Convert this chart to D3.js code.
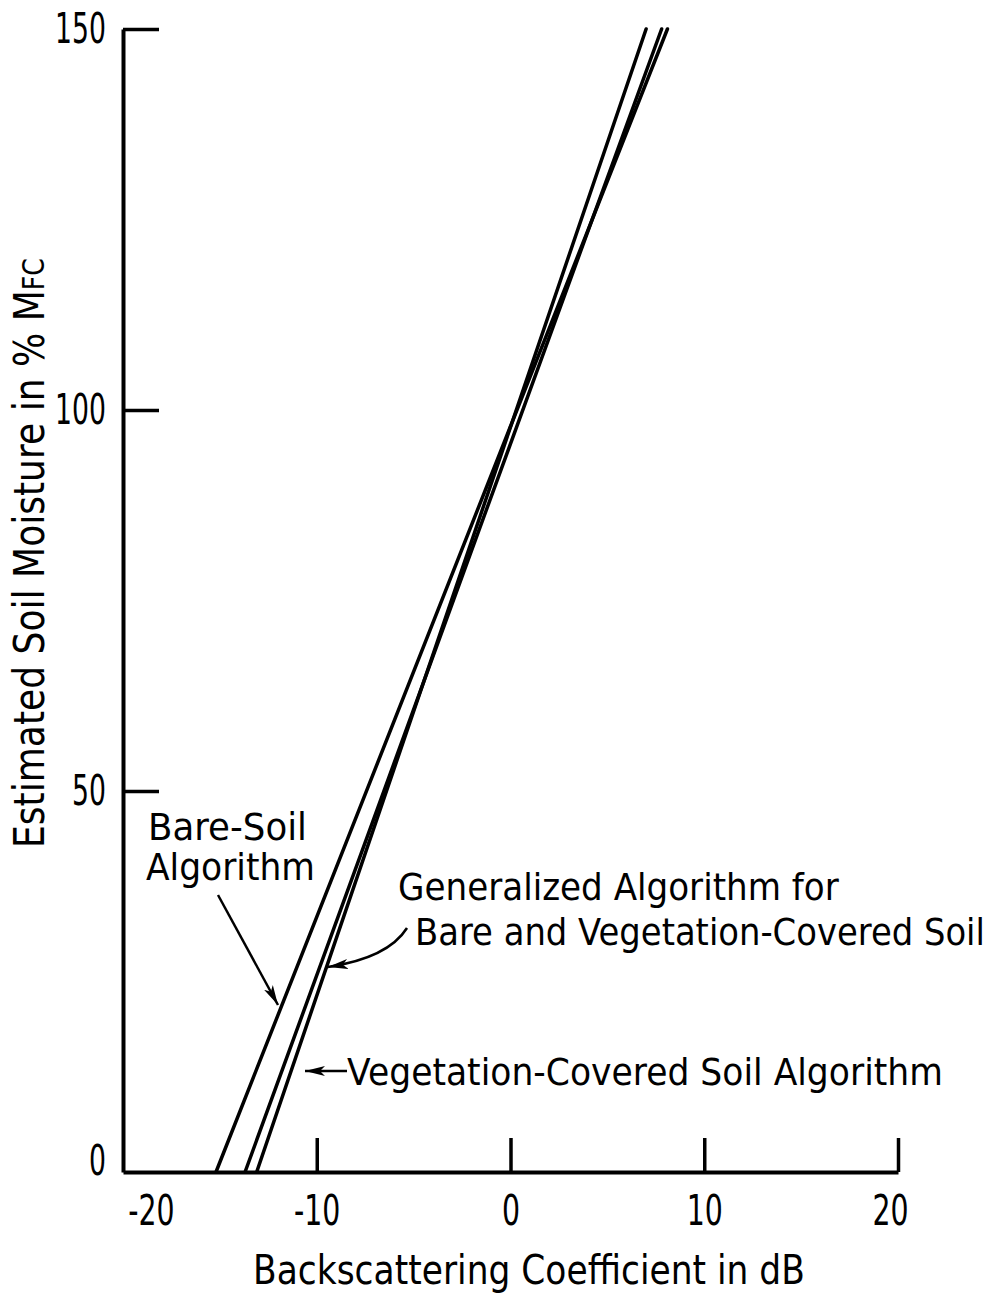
<!DOCTYPE html>
<html>
<head>
<meta charset="utf-8">
<script src="https://cdn.jsdelivr.net/npm/d3@7"></script>
<style>
  body { margin: 0; background: #fff; }
  text { font-family: "DejaVu Sans", sans-serif; fill: #000; }
</style>
</head>
<body>
<div id="chart"></div>
<script>
// values
const moisture = [0, 150];                 // % MFC at the two ends of each line
const algorithms = ["Bare-Soil", "Generalized", "Vegetation-Covered"];
const dbAtZero = [-15.2, -13.7, -13.1];    // dB where each line meets 0 %
const dbAt150 = [8.1, 7.8, 7.0];           // dB where each line reaches 150 %
const xTicks = [-20, -10, 0, 10, 20];
const yTicks = [0, 50, 100, 150];

const W = 994, H = 1298;
const margin = {top: 29, right: 96, bottom: 126, left: 123};

const svg = d3.select("#chart").append("svg")
    .attr("width", W)
    .attr("height", H);

const x = d3.scaleLinear().domain([-20, 20]).range([margin.left, W - margin.right]);
const y = d3.scaleLinear().domain([0, 150]).range([H - margin.bottom, margin.top]);

// the lettering on the original is very narrow
function squeeze(sel, k) {
    sel.each(function () {
        let len = this.getComputedTextLength();
        d3.select(this).attr("textLength", len * k).attr("lengthAdjust", "spacingAndGlyphs");
    });
}

// text squeezed to a given width with a scale transform
function label(t, x0, y0, size, width, rot) {
    let el = svg.append("text")
        .style("font-size", size + "px")
        .text(t);
    let k = width / el.node().getComputedTextLength();
    el.attr("transform", `translate(${x0},${y0})` + (rot ? ` rotate(${rot})` : "") + ` scale(${k},1)`);
    return el;
}

// axes
let yAxis = svg.append("g")
    .attr("transform", `translate(${x(-20)},0)`)
    .call(d3.axisLeft(y).tickValues(yTicks).tickSize(-36).tickPadding(17).tickSizeOuter(0));
let xAxis = svg.append("g")
    .attr("transform", `translate(0,${y(0)})`)
    .call(d3.axisBottom(x).tickValues(xTicks).tickFormat(d => String(d))
        .tickSize(-34).tickPadding(22).tickSizeOuter(0));

[yAxis, xAxis].forEach(function (g) {
    g.select(".domain").attr("stroke", "#000").attr("stroke-width", 4);
    g.selectAll(".tick line").attr("stroke", "#000").attr("stroke-width", 3.5);
    g.selectAll(".tick text").style("font-size", "43px").attr("fill", "#000");
});
yAxis.selectAll(".tick").filter(d => d === 0).select("line").remove();
xAxis.selectAll(".tick").filter(d => d === -20).select("line").remove();
// labels that sit off their tick in the original
yAxis.selectAll(".tick").filter(d => d === 0).select("text").attr("y", -11);
xAxis.selectAll(".tick").filter(d => d === -20).select("text").attr("x", 28);
xAxis.selectAll(".tick").filter(d => d === 20).select("text").attr("x", -8);

squeeze(yAxis.selectAll(".tick text"), 0.62);
squeeze(xAxis.selectAll(".tick text"), 0.66);

// the three algorithm lines
let line = d3.line()
    .x(d => x(d[0]))
    .y(d => y(d[1]));

algorithms.forEach(function (name, i) {
    svg.append("path")
        .datum([[dbAtZero[i], moisture[0]], [dbAt150[i], moisture[1]]])
        .attr("fill", "none")
        .attr("stroke", "#000")
        .attr("stroke-width", 3.5)
        .attr("stroke-linecap", "round")
        .attr("d", line);
});

// axis titles
label("Backscattering Coefficient in dB", 253, 1284, 40, 552);

let ytitle = svg.append("text")
    .style("font-size", "43px");
ytitle.append("tspan").text("Estimated Soil Moisture in % M");
ytitle.append("tspan").style("font-size", "30px").text("FC");
let ky = 590 / ytitle.node().getComputedTextLength();
ytitle.attr("transform", `translate(44,848) rotate(-90) scale(${ky},1)`);

// annotations
svg.append("defs").append("marker")
    .attr("id", "head")
    .attr("viewBox", "0 0 20 10")
    .attr("refX", 20)
    .attr("refY", 5)
    .attr("markerWidth", 20)
    .attr("markerHeight", 10)
    .attr("markerUnits", "userSpaceOnUse")
    .attr("orient", "auto")
    .append("path")
    .attr("d", "M0,0 L20,5 L0,10 L5,5 Z")
    .attr("fill", "#000");

label("Bare-Soil", 148, 840, 37, 159);
label("Algorithm", 146, 880, 37, 169);
label("Generalized Algorithm for", 398, 900, 38, 441);
label("Bare and Vegetation-Covered Soil", 415, 945, 38, 570);
label("Vegetation-Covered Soil Algorithm", 347, 1085, 38, 596);

svg.append("path")
    .attr("d", "M218,895 L278,1005")
    .attr("stroke", "#000").attr("stroke-width", 2.5).attr("fill", "none")
    .attr("marker-end", "url(#head)");
svg.append("path")
    .attr("d", "M407,928 Q388,958 328,967")
    .attr("stroke", "#000").attr("stroke-width", 2.5).attr("fill", "none")
    .attr("marker-end", "url(#head)");
svg.append("path")
    .attr("d", "M347,1071 L305,1071")
    .attr("stroke", "#000").attr("stroke-width", 2.5).attr("fill", "none")
    .attr("marker-end", "url(#head)");
</script>
</body>
</html>
